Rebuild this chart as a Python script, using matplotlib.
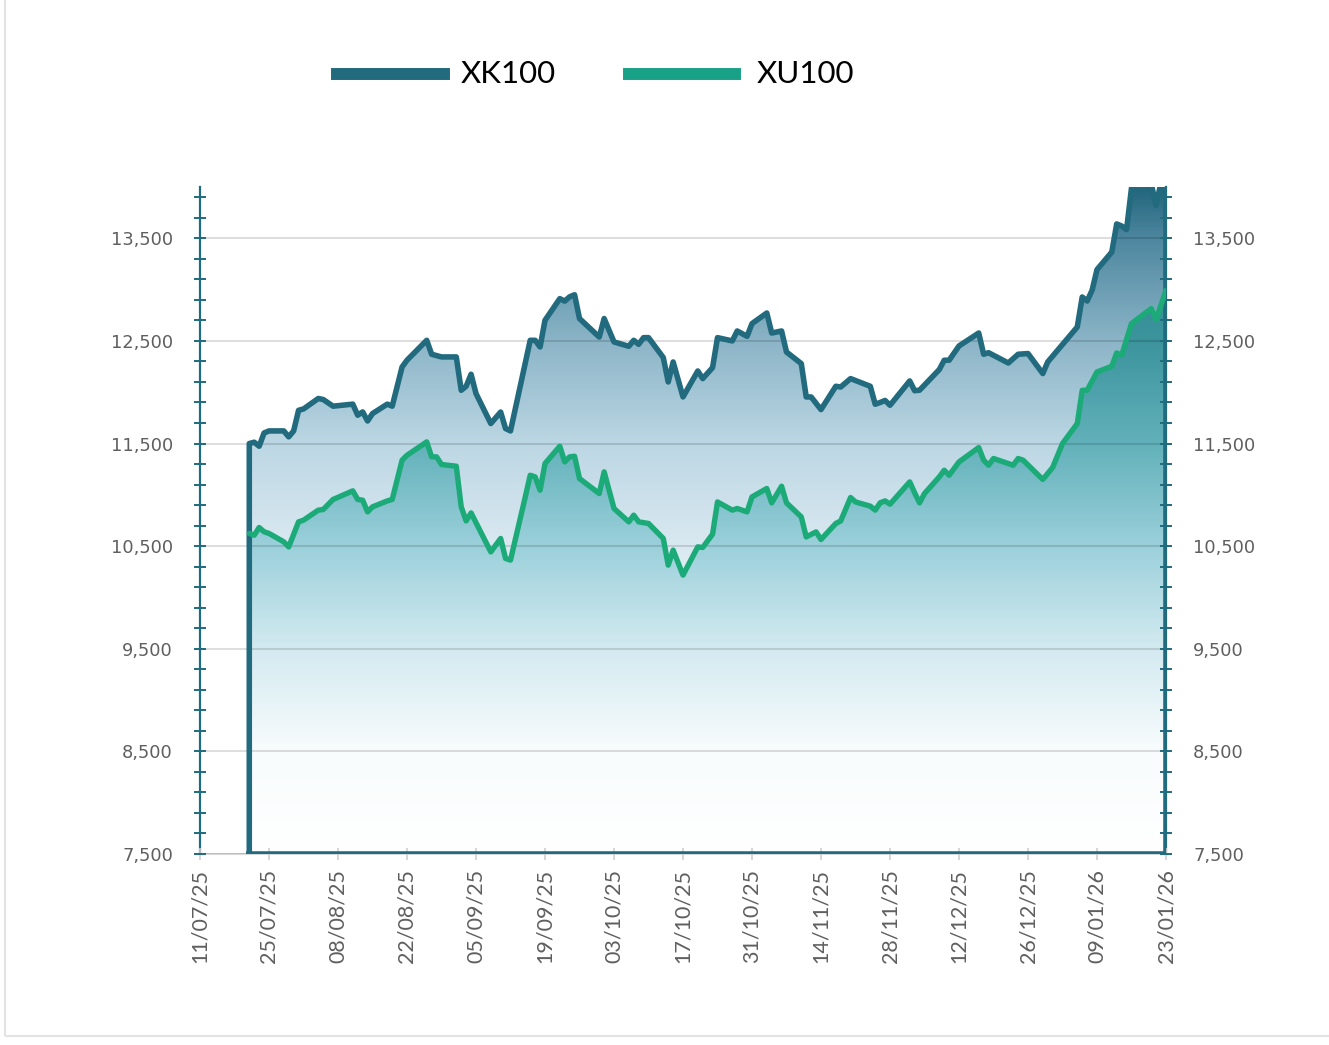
import matplotlib
matplotlib.use('Agg')
import matplotlib.pyplot as plt
import matplotlib.dates as mdates
import numpy as np
import pandas as pd
from matplotlib.colors import LinearSegmentedColormap
from matplotlib.patches import Polygon, Rectangle
from matplotlib.lines import Line2D
from matplotlib.ticker import FixedLocator, FuncFormatter

# --- data ---
xk_dates = ['21/07/25', '22/07/25', '23/07/25', '24/07/25', '25/07/25', '28/07/25', '29/07/25', '30/07/25',
            '31/07/25', '01/08/25', '04/08/25', '05/08/25', '07/08/25', '11/08/25', '12/08/25', '13/08/25',
            '14/08/25', '15/08/25', '18/08/25', '19/08/25', '21/08/25', '22/08/25', '26/08/25', '27/08/25',
            '29/08/25', '01/09/25', '02/09/25', '03/09/25', '04/09/25', '05/09/25', '08/09/25', '10/09/25',
            '11/09/25', '12/09/25', '16/09/25', '17/09/25', '18/09/25', '19/09/25', '22/09/25', '23/09/25',
            '24/09/25', '25/09/25', '26/09/25', '30/09/25', '01/10/25', '03/10/25', '06/10/25', '07/10/25',
            '08/10/25', '09/10/25', '10/10/25', '13/10/25', '14/10/25', '15/10/25', '17/10/25', '20/10/25',
            '21/10/25', '23/10/25', '24/10/25', '27/10/25', '28/10/25', '30/10/25', '31/10/25', '03/11/25',
            '04/11/25', '06/11/25', '07/11/25', '10/11/25', '11/11/25', '12/11/25', '14/11/25', '17/11/25',
            '18/11/25', '20/11/25', '24/11/25', '25/11/25', '26/11/25', '27/11/25', '28/11/25', '02/12/25',
            '03/12/25', '04/12/25', '08/12/25', '09/12/25', '10/12/25', '12/12/25', '16/12/25', '17/12/25',
            '18/12/25', '22/12/25', '24/12/25', '26/12/25', '29/12/25', '30/12/25', '05/01/26', '06/01/26',
            '07/01/26', '08/01/26', '09/01/26', '12/01/26', '13/01/26', '14/01/26', '15/01/26', '16/01/26',
            '19/01/26', '20/01/26', '21/01/26', '22/01/26', '23/01/26']
xk_vals = [11500, 11513, 11474, 11603, 11623, 11623, 11565, 11623,
           11824, 11837, 11939, 11929, 11864, 11884, 11776, 11808,
           11720, 11792, 11884, 11864, 12246, 12312, 12506, 12370,
           12344, 12344, 12019, 12058, 12175, 11987, 11695, 11807,
           11646, 11623, 12506, 12506, 12441, 12701, 12912, 12888,
           12930, 12950, 12718, 12538, 12718, 12490, 12448, 12506,
           12467, 12532, 12532, 12338, 12100, 12295, 11954, 12207,
           12133, 12240, 12532, 12500, 12597, 12545, 12669, 12772,
           12577, 12597, 12392, 12279, 11954, 11954, 11831, 12058,
           12051, 12133, 12058, 11883, 11900, 11920, 11873, 12110,
           12015, 12020, 12221, 12312, 12312, 12451, 12577, 12370,
           12385, 12285, 12370, 12377, 12182, 12295, 12636, 12928,
           12889, 12993, 13195, 13366, 13640, 13620, 13585, 13990,
           14010, 14030, 13820, 14050, 14050]

xu_dates = ['21/07/25', '22/07/25', '23/07/25', '24/07/25', '25/07/25', '28/07/25', '29/07/25', '31/07/25',
            '01/08/25', '04/08/25', '05/08/25', '07/08/25', '11/08/25', '12/08/25', '13/08/25', '14/08/25',
            '15/08/25', '18/08/25', '19/08/25', '21/08/25', '22/08/25', '26/08/25', '27/08/25', '28/08/25',
            '29/08/25', '01/09/25', '02/09/25', '03/09/25', '04/09/25', '08/09/25', '10/09/25', '11/09/25',
            '12/09/25', '15/09/25', '16/09/25', '17/09/25', '18/09/25', '19/09/25', '22/09/25', '23/09/25',
            '24/09/25', '25/09/25', '26/09/25', '30/09/25', '01/10/25', '03/10/25', '06/10/25', '07/10/25',
            '08/10/25', '10/10/25', '13/10/25', '14/10/25', '15/10/25', '17/10/25', '20/10/25', '21/10/25',
            '23/10/25', '24/10/25', '27/10/25', '28/10/25', '30/10/25', '31/10/25', '03/11/25', '04/11/25',
            '06/11/25', '07/11/25', '10/11/25', '11/11/25', '13/11/25', '14/11/25', '17/11/25', '18/11/25',
            '20/11/25', '21/11/25', '24/11/25', '25/11/25', '26/11/25', '27/11/25', '28/11/25', '02/12/25',
            '03/12/25', '04/12/25', '05/12/25', '08/12/25', '09/12/25', '10/12/25', '12/12/25', '16/12/25',
            '17/12/25', '18/12/25', '19/12/25', '23/12/25', '24/12/25', '25/12/25', '29/12/25', '30/12/25',
            '31/12/25', '02/01/26', '05/01/26', '06/01/26', '07/01/26', '09/01/26', '12/01/26', '13/01/26',
            '14/01/26', '16/01/26', '20/01/26', '21/01/26', '23/01/26']
xu_vals = [10624, 10607, 10682, 10640, 10624, 10542, 10493, 10737,
           10753, 10851, 10857, 10955, 11039, 10955, 10948, 10834,
           10883, 10941, 10955, 11338, 11386, 11516, 11370, 11370,
           11296, 11279, 10883, 10746, 10824, 10444, 10575, 10380,
           10364, 10980, 11191, 11175, 11045, 11305, 11474, 11321,
           11370, 11376, 11159, 11013, 11224, 10867, 10737, 10802,
           10737, 10721, 10575, 10315, 10461, 10218, 10493, 10487,
           10617, 10931, 10851, 10867, 10834, 10980, 11062, 10922,
           11084, 10922, 10785, 10590, 10639, 10565, 10721, 10746,
           10974, 10931, 10890, 10851, 10922, 10941, 10909, 11126,
           11020, 10922, 11013, 11175, 11240, 11191, 11321, 11461,
           11338, 11289, 11354, 11289, 11354, 11338, 11150, 11208,
           11267, 11500, 11695, 12019, 12019, 12198, 12253, 12383,
           12360, 12669, 12815, 12708, 12993]

series_names = ['XK100', 'XU100']
x_start, x_end = '11/07/25', '23/01/26'
y_min, y_max = 7500, 14000

# --- styles ---
xk_color = '#226a7e'
xu_color = '#1cab78'
xu_legend = '#19a187'
axis_color = '#1f6b7f'
label_color = '#5f5f5f'

xk_cmap = LinearSegmentedColormap.from_list('xk', [
    (0.0, '#ffffff'), (0.308, '#eef5f9'), (0.4615, '#dae9f1'), (0.615, '#bcd7e4'),
    (0.769, '#8cb5c7'), (0.923, '#4e88a0'), (1.0, '#23667d')])
xu_cmap = LinearSegmentedColormap.from_list('xu', [
    (0.0, '#ffffff'), (0.154, '#f8fcfd'), (0.308, '#d3eaf0'), (0.4615, '#9bd0db'),
    (0.615, '#62b1ba'), (0.769, '#3c949d'), (1.0, '#28808a')])

xk_x = mdates.date2num(pd.to_datetime(xk_dates, format='%d/%m/%y'))
xu_x = mdates.date2num(pd.to_datetime(xu_dates, format='%d/%m/%y'))
xk_y = np.array(xk_vals, dtype=float)
xu_y = np.array(xu_vals, dtype=float)
x0 = mdates.date2num(pd.to_datetime(x_start, format='%d/%m/%y'))
x1 = mdates.date2num(pd.to_datetime(x_end, format='%d/%m/%y'))

W, H = 1329, 1045
fig = plt.figure(figsize=(W / 100, H / 100), dpi=100)
ax = fig.add_axes([200 / W, 1 - 854 / H, 966 / W, 667 / H])

grad = np.linspace(y_min, y_max, 600).reshape(-1, 1)


def gradient_area(xs, ys, cmap, z):
    verts = [(xs[0], y_min)] + list(zip(xs, ys)) + [(xs[-1], y_min)]
    patch = Polygon(verts, closed=True, facecolor='none', edgecolor='none', transform=ax.transData)
    ax.add_patch(patch)
    im = ax.imshow(grad, extent=(xs[0], xs[-1], y_min, y_max), origin='lower', aspect='auto',
                   cmap=cmap, vmin=y_min, vmax=y_max, interpolation='bilinear', zorder=z)
    im.set_clip_path(patch)


gradient_area(xk_x, xk_y, xk_cmap, 1)
gradient_area(xu_x, xu_y, xu_cmap, 1.5)

# outline of XK100 area (vertical edges + base), then XU100 line
xk_ox = np.concatenate([[xk_x[0]], xk_x, [xk_x[-1], xk_x[0]]])
xk_oy = np.concatenate([[y_min], xk_y, [y_min, y_min]])
ax.plot(xk_ox, xk_oy, color=xk_color, lw=4.0, solid_joinstyle='round', zorder=4)
ax.plot(xu_x, xu_y, color=xu_color, lw=3.9, solid_joinstyle='round', solid_capstyle='round', zorder=4)

ax.set_xlim(x0, x1)
ax.set_ylim(y_min, y_max)

# grid / spines
ax.set_axisbelow(False)
ax.yaxis.grid(True, which='major', color='k', alpha=0.13, lw=1.5)
ax.spines['top'].set_visible(False)
for s in ['left', 'right']:
    ax.spines[s].set_color(axis_color)
    ax.spines[s].set_linewidth(1.6)
ax.spines['bottom'].set_color('#d9d9d9')
ax.spines['bottom'].set_linewidth(1.5)

# y ticks
ax.yaxis.set_major_locator(FixedLocator(np.arange(7500, 13501, 1000)))
ax.yaxis.set_minor_locator(FixedLocator([v for v in range(7500, 14000, 200) if (v - 7500) % 1000]))
ax.yaxis.set_major_formatter(FuncFormatter(lambda v, p: f'{v:,.0f}'))
ax.tick_params(axis='y', which='both', direction='inout', length=9, width=1.4, color=axis_color,
               left=True, right=True, labelleft=True, labelright=True)
ax.tick_params(axis='y', which='major', labelsize=12.8, labelcolor=label_color, pad=15)

# x ticks
xt = pd.date_range(pd.to_datetime(x_start, format='%d/%m/%y'), pd.to_datetime(x_end, format='%d/%m/%y'), freq='14D')
ax.set_xticks(mdates.date2num(xt))
ax.set_xticklabels([d.strftime('%d/%m/%y') for d in xt], rotation=90, family='Lato', fontsize=15.5,
                   color=label_color)
ax.tick_params(axis='x', direction='inout', length=8, width=1.2, color='#d0d0d0', pad=7)

# legend
ly = 1 - 74 / H
fig.add_artist(Line2D([337 / W, 444 / W], [ly, ly], lw=8.6, color=xk_color, transform=fig.transFigure))
fig.add_artist(Line2D([629 / W, 735 / W], [ly, ly], lw=8.6, color=xu_legend, transform=fig.transFigure))
fig.text(461 / W, ly, series_names[0], fontsize=22.5, family='Lato', va='center', ha='left', color='black')
fig.text(757 / W, ly, series_names[1], fontsize=22.5, family='Lato', va='center', ha='left', color='black')

# light frame (left and bottom edges visible)
fig.add_artist(Rectangle((5 / W, 9 / H), 1.2, 1.2, transform=fig.transFigure, fill=False,
                         edgecolor='#e3e3e3', lw=1.5))

fig.savefig('out.png', dpi=100)
